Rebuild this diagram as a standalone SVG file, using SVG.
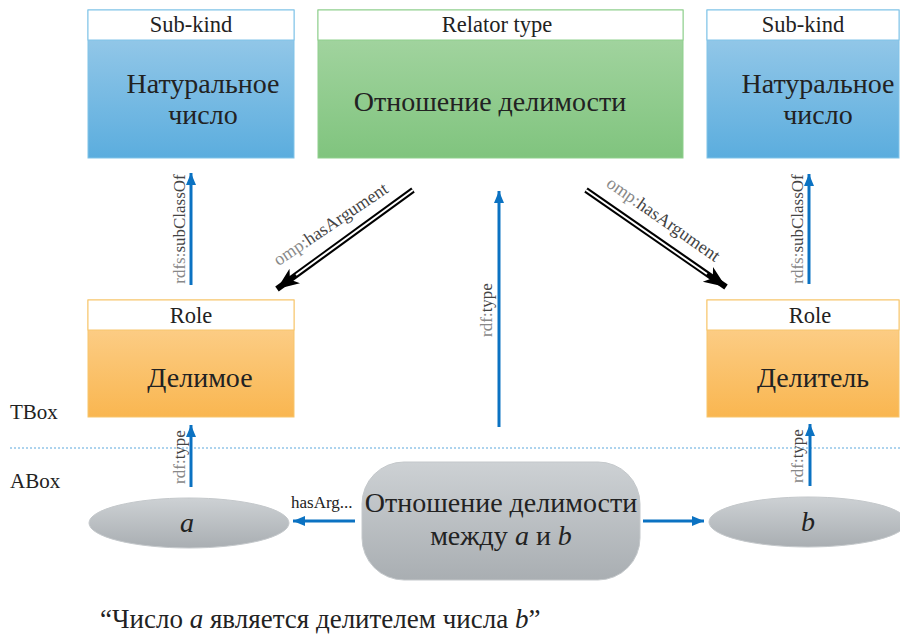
<svg xmlns="http://www.w3.org/2000/svg" width="900" height="635" viewBox="0 0 900 635">
<defs>
<linearGradient id="gBlue" x1="0" y1="0" x2="0" y2="1"><stop offset="0" stop-color="#9fcdea"/><stop offset="1" stop-color="#5badde"/></linearGradient>
<linearGradient id="gGreen" x1="0" y1="0" x2="0" y2="1"><stop offset="0" stop-color="#a9d7a6"/><stop offset="1" stop-color="#80c47e"/></linearGradient>
<linearGradient id="gOrange" x1="0" y1="0" x2="0" y2="1"><stop offset="0" stop-color="#fdd496"/><stop offset="1" stop-color="#f9b650"/></linearGradient>
<linearGradient id="gGray" x1="0" y1="0" x2="0" y2="1"><stop offset="0" stop-color="#cdd1d4"/><stop offset="1" stop-color="#a9aeb2"/></linearGradient>
<marker id="blueHead" markerUnits="userSpaceOnUse" markerWidth="12" markerHeight="12" refX="12" refY="5" orient="auto"><path d="M0,0 L12,5 L0,10 Z" fill="#0b72c2"/></marker>
<marker id="blackHead" markerUnits="userSpaceOnUse" markerWidth="24" markerHeight="20" refX="22" refY="10" orient="auto"><path d="M0,1 L22,10 L0,19 L6,10 Z" fill="#000"/></marker>
</defs>
<style>
.serif{font-family:"Liberation Serif","Times New Roman",serif;fill:#222}
.hdr{font-size:22.5px;text-anchor:middle}
.main{font-size:28px;text-anchor:middle}
.lbl{font-size:17px;fill:#444}
.dlbl{font-size:18px;fill:#444}
.pre{fill:#888}
.blue{stroke:#0b72c2;stroke-width:3;fill:none}
.dblout{stroke:#000;stroke-width:6;fill:none}
.dblin{stroke:#fff;stroke-width:2;fill:none}
</style>

<g id="subkind-left">
<rect x="88" y="10" width="206" height="148" fill="url(#gBlue)" stroke="#80c3e8"/>
<rect x="88" y="10" width="206" height="30" fill="#fff" stroke="#80c3e8"/>
<text class="serif hdr" x="191" y="32">Sub-kind</text>
<text class="serif main" x="203" y="93">Натуральное</text>
<text class="serif main" x="203" y="124">число</text>
</g>

<g id="relator">
<rect x="318" y="10" width="365" height="148" fill="url(#gGreen)" stroke="#8fd08d"/>
<rect x="318" y="10" width="365" height="30" fill="#fff" stroke="#8fd08d"/>
<text class="serif hdr" x="497" y="32">Relator type</text>
<text class="serif main" x="490" y="111">Отношение делимости</text>
</g>

<g id="subkind-right">
<rect x="707" y="10" width="192" height="148" fill="url(#gBlue)" stroke="#80c3e8"/>
<rect x="707" y="10" width="192" height="30" fill="#fff" stroke="#80c3e8"/>
<text class="serif hdr" x="803" y="32">Sub-kind</text>
<text class="serif main" x="818" y="93">Натуральное</text>
<text class="serif main" x="818" y="124">число</text>
</g>

<g id="role-left">
<rect x="88" y="300" width="206" height="117" fill="url(#gOrange)" stroke="#f7c56c"/>
<rect x="88" y="300" width="206" height="30" fill="#fff" stroke="#f7c56c"/>
<text class="serif hdr" x="191" y="323">Role</text>
<text class="serif main" x="200" y="387">Делимое</text>
</g>

<g id="role-right">
<rect x="707" y="300" width="192" height="117" fill="url(#gOrange)" stroke="#f7c56c"/>
<rect x="707" y="300" width="192" height="30" fill="#fff" stroke="#f7c56c"/>
<text class="serif hdr" x="810" y="323">Role</text>
<text class="serif main" x="813" y="387">Делитель</text>
</g>

<g id="boxes-labels">
<line x1="10" y1="448" x2="900" y2="448" stroke="#5aa7dc" stroke-width="1" stroke-dasharray="2,2"/>
<text class="serif" x="10" y="419" font-size="21">TBox</text>
<text class="serif" x="10" y="488" font-size="21">ABox</text>
</g>

<g id="ind-a">
<ellipse cx="189" cy="523" rx="100" ry="25" fill="url(#gGray)" stroke="#c4c8cb"/>
<text class="serif main" x="187" y="532" font-style="italic">a</text>
</g>

<g id="ind-b">
<ellipse cx="808" cy="522" rx="99" ry="25" fill="url(#gGray)" stroke="#c4c8cb"/>
<text class="serif main" x="808" y="531" font-style="italic">b</text>
</g>

<g id="relator-instance">
<rect x="362" y="462" width="278" height="118" rx="42" ry="42" fill="url(#gGray)" stroke="#c4c8cb"/>
<text class="serif main" x="501" y="512">Отношение делимости</text>
<text class="serif main" x="501" y="545">между <tspan font-style="italic">a</tspan> и <tspan font-style="italic">b</tspan></text>
</g>

<g id="connectors">
<line class="blue" x1="191" y1="285" x2="191" y2="173" marker-end="url(#blueHead)"/>
<line class="blue" x1="809" y1="284" x2="809" y2="174" marker-end="url(#blueHead)"/>
<line class="blue" x1="499" y1="427" x2="499" y2="191" marker-end="url(#blueHead)"/>
<line class="blue" x1="191" y1="487" x2="191" y2="425" marker-end="url(#blueHead)"/>
<line class="blue" x1="810" y1="486" x2="810" y2="424" marker-end="url(#blueHead)"/>
<line class="blue" x1="355" y1="521" x2="293" y2="521" marker-end="url(#blueHead)"/>
<line class="blue" x1="643" y1="521" x2="704" y2="521" marker-end="url(#blueHead)"/>

<line class="dblout" x1="413" y1="190" x2="277" y2="289" marker-end="url(#blackHead)"/>
<line class="dblin" x1="413" y1="190" x2="296" y2="275"/>
<line class="dblout" x1="586" y1="190" x2="726" y2="287" marker-end="url(#blackHead)"/>
<line class="dblin" x1="586" y1="190" x2="707" y2="274"/>

<text class="serif lbl" transform="translate(185,229) rotate(-90)" text-anchor="middle"><tspan class="pre">rdfs:</tspan>subClassOf</text>
<text class="serif lbl" transform="translate(803,229) rotate(-90)" text-anchor="middle"><tspan class="pre">rdfs:</tspan>subClassOf</text>
<text class="serif lbl" transform="translate(492,310) rotate(-90)" text-anchor="middle"><tspan class="pre">rdf:</tspan>type</text>
<text class="serif lbl" transform="translate(185,457) rotate(-90)" text-anchor="middle"><tspan class="pre">rdf:</tspan>type</text>
<text class="serif lbl" transform="translate(803,456) rotate(-90)" text-anchor="middle"><tspan class="pre">rdf:</tspan>type</text>
<text class="serif dlbl" transform="translate(334,229) rotate(-34)" text-anchor="middle"><tspan class="pre">omp:</tspan>hasArgument</text>
<text class="serif dlbl" transform="translate(660,224) rotate(35)" text-anchor="middle"><tspan class="pre">omp:</tspan>hasArgument</text>
<text class="serif" x="291" y="508" font-size="17">hasArg...</text>
</g>

<text class="serif" x="100" y="628" font-size="27">“Число <tspan font-style="italic">a</tspan> является делителем числа <tspan font-style="italic">b</tspan>”</text>
</svg>
